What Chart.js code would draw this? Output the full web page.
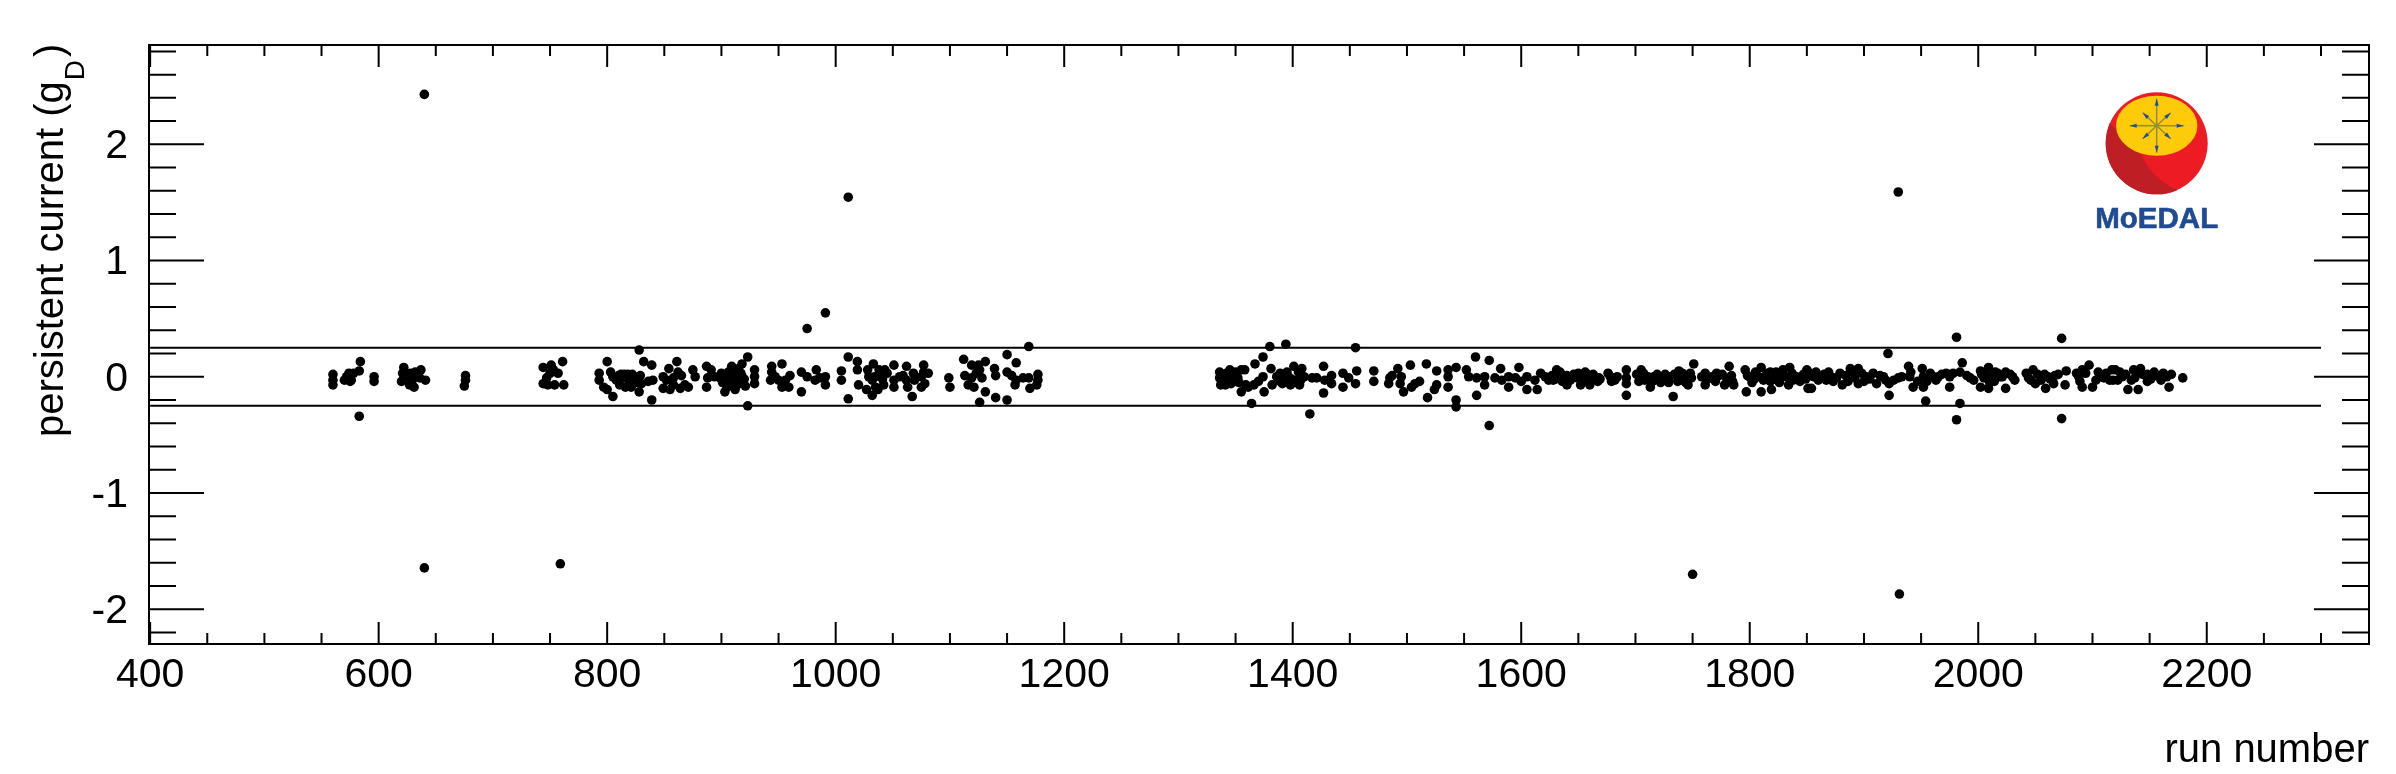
<!DOCTYPE html>
<html>
<head>
<meta charset="utf-8">
<title>persistent current vs run number</title>
<script src="https://cdn.jsdelivr.net/npm/chart.js@4"></script>
<style>
  html, body { margin: 0; padding: 0; background: #fff; }
  canvas { display: block; }
</style>
</head>
<body>
<canvas id="persistent-current" width="2396" height="774"></canvas>
<script>
// values, run number and persistent current in g_D
var runsA = [
  560,560,560,570,572,574,576,578,575,584,
  583,583,596,596,622,621,620,624,629,631,
  628,633,637,636,641,632,627,676,676,675,
  744,744,747,751,753,757,761,748,754,762,
  750,793,793,800,803,797,800,805,805,810,
  813,816,819,821,811,816,821,824,828,832,
  839,829,828,830,836,839,840,849,854,861,
  849,855,852,858,862,865,868,864,871,875,
  877,858,887,888,887,891,894,900,903,906,
  909,912,915,918,923,923,903,908,912,916,
  918,929,929,929,899,905
];
var valuesA = [
  .02,-.03,-.07,-.03,0,.03,-.03,.03,-.04,.13,
  .05,-.34,0,-.04,.08,.03,-.04,0,-.04,-.09,
  .03,0,.06,-.01,-.03,.04,-.07,.01,-.03,-.08,
  .08,-.06,-.01,.10,.06,.03,.13,-.07,-.07,-.07,
  .03,.03,-.03,.13,.04,-.09,-.11,-.17,0,.01,
  0,-.01,-.03,0,-.07,-.09,-.09,-.01,.23,.13,
  .10,.01,-.13,-.06,-.04,-.20,-.03,0,.07,.13,
  -.10,-.11,-.03,-.01,.04,.01,-.07,-.10,-.09,.06,
  0,-.07,.09,-.01,-.09,.06,0,.03,-.13,.04,
  .09,-.11,.07,.11,.17,-.25,-.03,-.03,-.01,-.06,
  0,.06,0,-.06,-.01,-.09
];
var runsB = [
  944,944,943,953,947,950,953,956,959,960,
  970,975,970,983,982,986,991,991,1005,1005,
  1011,1011,1019,1019,1020,1028,1029,1027,1033,1032,
  1032,1037,1037,1040,1042,1045,1051,1051,1051,1056,
  1059,1062,1063,1067,1068,1062,1069,1075,1075,1077,
  1077,1081,1078,1099,1100,1112,1113,1119,1125,1131,
  1116,1119,1123,1128,1121,1126,1131,1126,1139,1140,
  1140,1150,1150,1158,1150,1154,1157,1158,1164,1169,
  1177,1176,1170,1177,1169
];
var valuesB = [
  .09,.04,-.03,.11,0,-.03,-.09,-.03,-.09,.01,
  .04,0,-.13,.06,-.03,-.01,0,-.07,.05,-.03,
  .17,-.19,.13,.06,-.07,.06,0,-.11,.11,-.03,
  -.16,.01,-.11,.04,-.07,.03,.10,-.03,-.09,0,
  .01,.09,-.09,-.17,.03,-.03,-.03,0,-.09,.10,
  .04,.03,-.06,-.01,-.09,.15,.01,.10,.10,.13,
  -.07,-.01,.03,-.01,-.09,.06,-.13,-.22,.07,.01,
  -.18,.19,-.20,.12,.04,.01,-.07,-.03,-.01,-.01,
  .02,-.07,-.10,-.03,.26
];
var runsC = [
  1336,1336,1337,1340,1345,1344,1348,1341,1355,1352,
  1358,1350,1355,1359,1364,1367,1374,1380,1394,1361,
  1366,1370,1374,1375,1381,1382,1389,1389,1393,1396,
  1401,1398,1404,1408,1406,1410,1415,1417,1421,1427,
  1427,1428,1434,1434,1444,1444,1455,1456,1455,1449,
  1471,1471,1485,1487,1484,1492,1497,1495,1494,1503,
  1504,1507,1511,1517,1518,1526,1526,1524,1536,1536,
  1536,1543,1543,1543,1552,1554,1560,1561,1561,1568,
  1568,1572,1572,1577,1582,1583,1589,1589,1598,1595,
  1600,1605,1605,1612,1614,1621,1627,1631,1628,1636,
  1640,1640,1649,1652,1656,1656,1660,1663,1668
];
var valuesC = [
  .04,-.01,-.07,0,.06,-.01,-.01,-.07,.06,-.01,
  .06,-.04,-.13,-.07,-.23,.11,.17,.26,.28,-.09,
  -.07,-.04,0,-.13,.07,-.07,.03,-.04,-.03,0,
  .09,-.07,-.03,.07,-.07,0,-.32,-.01,-.01,.09,
  -.14,-.03,.01,-.06,.03,-.09,.25,.05,-.06,-.01,
  .05,-.04,-.01,.01,-.06,.07,-.13,0,-.06,.10,
  -.09,-.06,-.04,.11,-.18,.05,-.07,-.11,.06,0,
  -.09,.08,-.20,-.26,.06,0,.17,-.16,-.01,0,
  -.07,.14,-.42,-.01,.07,-.03,0,-.09,.08,-.01,
  -.04,0,-.11,-.03,-.11,0,.01,.06,-.03,-.04,
  .01,-.07,-.01,-.07,.04,-.01,-.07,-.01,-.01
];
var runsD = [
  1669,1678,1682,1692,1692,1692,1692,1705,1704,1708,
  1713,1716,1723,1730,1733,1738,1739,1743,1746,1751,
  1749,1761,1761,1767,1773,1778,1782,1784,1786,1796,
  1797,1800,1805,1810,1810,1818,1819,1818,1824,1829,
  1835,1834,1841,1844,1850,1851,1854,1856,1862,1869,
  1867,1876,1881,1888,1895,1892,1895,1902,1908,1911,
  1917,1922,1922,1921,1930,1939,1940,1943,1951,1952,
  1952
];
var valuesD = [
  -.02,0,-.03,.06,-.01,-.06,-.16,.06,-.01,-.03,
  -.09,0,0,0,-.17,.05,-.03,0,-.07,.11,
  -.01,.03,-.07,0,.01,-.07,.09,.01,-.07,.06,
  -.13,0,.04,.08,-.13,.04,-.11,-.04,-.03,.06,
  .08,-.07,0,-.04,.06,-.10,-.10,0,0,.04,
  -.03,-.01,-.07,.07,.07,-.01,-.06,0,.03,-.06,
  0,-.06,-.16,.20,-.01,.09,0,-.09,.07,0,
  -.09
];
var runsE = [
  1954,1961,1965,1975,1975,1981,1981,1984,1986,1984,
  1993,2002,2009,2015,2002,2009,2005,2012,2019,2024,
  2024,2032,2044,2048,2050,2059,2061,2067,2066,2073,
  2073,2077,2076,2088,2091,2091,2097,2100,2105,2110,
  2117,2120,2118,2126,2131,2136,2140,2142,2137,2148,
  2148,2156,2165,2167,2179
];
var valuesE = [
  -.21,0,0,0,-.09,.34,-.37,-.23,.12,.04,
  -.01,.05,.08,.04,-.09,-.10,-.01,-.01,0,.04,
  -.10,-.03,-.01,.06,-.06,-.10,0,.01,-.06,.33,
  -.36,.05,-.07,0,.06,-.09,.10,-.09,.04,-.01,
  .06,.06,-.03,0,-.11,.06,-.11,.07,-.01,-.04,
  .02,.01,0,-.09,-.01
];
// runs hidden inside the solid parts of the band, estimated
var runsDense = [
  808,812,815,818,822,826,901,907,910,913,
  914,917,920,921,1034,1035,1038,1041,1043,1338,
  1342,1347,1350,1353,1343,1346,1386,1391,1395,1399,
  1402,1405,1407,1617,1624,1630,1634,1638,1643,1646,
  1650,1654,1658,1663,1667,1676,1679,1684,1701,1703,
  1707,1711,1715,1719,1722,1726,1729,1734,1737,1741,
  1744,1748,1758,1763,1770,1771,1776,1780,1785,1798,
  1802,1804,1808,1812,1815,1821,1823,1826,1828,1832,
  1837,1838,1847,1849,1853,1858,1860,1865,1871,1873,
  1879,1884,1886,1890,1893,1898,1900,1905,1914,1919,
  1926,1933,1941,1947,1955,1958,1963,1968,1972,1978,
  1990,1996,2003,2007,2010,2014,2017,2021,2028,2030,
  2042,2046,2052,2055,2058,2063,2070,2086,2089,2094,
  2103,2107,2112,2115,2122,2124,2129,2134,2139,2144,
  2151,2154,2160,2162,2169
];
var valuesDense = [
  -.03,.02,.02,.02,.02,-.05,-.05,0,-.07,.03,
  -.05,.03,-.02,-.08,0,-.09,.06,-.02,.06,.02,
  .03,.03,.04,-.05,-.05,-.06,0,-.06,.04,-.02,
  -.05,.04,-.03,.03,-.03,-.02,.04,-.01,-.03,.02,
  .03,-.04,.02,.02,-.04,.03,-.04,0,.02,-.04,
  .03,0,-.04,.02,-.05,.02,-.05,.02,-.04,.03,
  -.05,.03,0,-.02,-.04,.03,.02,-.02,-.04,.01,
  -.05,-.02,0,-.03,.03,.01,.04,-.05,.01,0,
  .03,-.03,.02,-.02,.03,.04,-.03,.02,0,-.04,
  .03,.01,-.04,.04,.04,.03,-.04,-.02,.01,-.03,
  -.03,0,.04,-.04,-.04,.03,-.03,.02,.03,.03,
  .01,-.03,.02,.04,-.05,-.04,.03,0,.02,0,
  .03,-.03,.02,-.03,.02,-.02,.02,.03,-.04,.03,
  -.03,0,.03,-.03,-.03,.04,.02,-.03,.03,.02,
  -.02,.04,-.03,.03,.02
];
var outlierRuns = [640, 1011, 991, 975, 1930, 640, 759, 1750, 1931];
var outlierValues = [2.43, 1.545, .55, .415, 1.59, -1.645, -1.61, -1.70, -1.87];

var bandEnds = [400, 2300];
var bandUpper = [.25, .25];
var bandLower = [-.25, -.25];

var xMajorTicks = [400, 600, 800, 1000, 1200, 1400, 1600, 1800, 2000, 2200];
var xMinorTicks = [450, 500, 550, 650, 700, 750, 850, 900, 950, 1050, 1100, 1150, 1250, 1300, 1350,
  1450, 1500, 1550, 1650, 1700, 1750, 1850, 1900, 1950, 2050, 2100, 2150, 2250, 2300];
var yMajorTicks = [-2, -1, 0, 1, 2];
var yMinorTicks = [-2.2, -1.8, -1.6, -1.4, -1.2, -.8, -.6, -.4, -.2, .2, .4, .6, .8,
  1.2, 1.4, 1.6, 1.8, 2.2, 2.4, 2.6, 2.8];

var fontFamily = '"Liberation Sans", Arial, sans-serif';

function toPoints(xs, ys) {
  return xs.map(function(x, i) { return {x: x, y: ys[i]}; });
}

function setTicks(values) {
  return function(scale) {
    scale.ticks = values.map(function(v) { return {value: v}; });
  };
}

// ROOT style frame: inward ticks on all four sides
var framePlugin = {
  id: 'frame',
  afterDraw: function(chart) {
    var ctx = chart.ctx;
    var a = chart.chartArea;
    var xs = chart.scales.x;
    var ys = chart.scales.y;
    ctx.save();
    ctx.strokeStyle = '#000';
    ctx.lineWidth = 2;
    ctx.beginPath();
    function xTick(v, len) {
      var p = xs.getPixelForValue(v);
      ctx.moveTo(p, a.bottom); ctx.lineTo(p, a.bottom - len);
      ctx.moveTo(p, a.top); ctx.lineTo(p, a.top + len);
    }
    function yTick(v, len) {
      var p = ys.getPixelForValue(v);
      ctx.moveTo(a.left, p); ctx.lineTo(a.left + len, p);
      ctx.moveTo(a.right, p); ctx.lineTo(a.right - len, p);
    }
    xMajorTicks.forEach(function(v) { xTick(v, 22); });
    xMinorTicks.forEach(function(v) { xTick(v, 11); });
    yMajorTicks.forEach(function(v) { yTick(v, 55); });
    yMinorTicks.forEach(function(v) { yTick(v, 27); });
    ctx.stroke();
    ctx.strokeRect(a.left, a.top, a.right - a.left, a.bottom - a.top);
    ctx.restore();
  }
};

// y title needs a subscript, so it is drawn by hand
var yTitlePlugin = {
  id: 'yTitle',
  afterDraw: function(chart) {
    var ctx = chart.ctx;
    ctx.save();
    ctx.translate(63, 437);
    ctx.rotate(-Math.PI / 2);
    ctx.fillStyle = '#000';
    ctx.textAlign = 'left';
    ctx.textBaseline = 'alphabetic';
    ctx.font = '40px ' + fontFamily;
    var s = 'persistent current (g';
    ctx.fillText(s, 0, 0);
    var w = ctx.measureText(s).width;
    ctx.font = '28px ' + fontFamily;
    ctx.fillText('D', w + 1, 21);
    var w2 = ctx.measureText('D').width;
    ctx.font = '40px ' + fontFamily;
    ctx.fillText(')', w + w2 + 4, 0);
    ctx.restore();
  }
};

var logoPlugin = {
  id: 'logo',
  afterDraw: function(chart) {
    var ctx = chart.ctx;
    var cx = 2156.7, cy = 143.3;
    ctx.save();
    ctx.beginPath();
    ctx.arc(cx, cy, 51, 0, Math.PI * 2);
    ctx.fillStyle = '#ed1c24';
    ctx.fill();
    ctx.clip();
    ctx.beginPath();
    ctx.moveTo(cx - 70, 100);
    ctx.lineTo(cx - 15, 155);
    ctx.quadraticCurveTo(cx - 5, 180, cx + 25, 192);
    ctx.lineTo(cx - 70, 210);
    ctx.closePath();
    ctx.fillStyle = '#be1e24';
    ctx.fill();
    ctx.restore();

    ctx.save();
    var ey = 125.7;
    ctx.beginPath();
    ctx.ellipse(cx, ey, 40.7, 30, 0, 0, Math.PI * 2);
    ctx.fillStyle = '#fdcb0a';
    ctx.fill();
    var arrows = [[27, 0], [-27, 0], [0, 27], [0, -27], [14, 13], [-14, 13], [14, -13], [-14, -13]];
    arrows.forEach(function(d) {
      ctx.strokeStyle = '#8f8a45';
      ctx.lineWidth = 1.5;
      ctx.beginPath();
      ctx.moveTo(cx, ey);
      ctx.lineTo(cx + d[0], ey + d[1]);
      ctx.stroke();
      var len = Math.sqrt(d[0] * d[0] + d[1] * d[1]);
      var ux = d[0] / len, uy = d[1] / len;
      var bx = cx + d[0] - ux * 7, by = ey + d[1] - uy * 7;
      ctx.fillStyle = '#1f4e9c';
      ctx.beginPath();
      ctx.moveTo(cx + d[0], ey + d[1]);
      ctx.lineTo(bx - uy * 2, by + ux * 2);
      ctx.lineTo(bx + uy * 2, by - ux * 2);
      ctx.closePath();
      ctx.fill();
    });
    ctx.fillStyle = '#1f4a94';
    ctx.strokeStyle = '#1f4a94';
    ctx.lineWidth = .6;
    ctx.font = 'bold 29.5px "Liberation Sans", sans-serif';
    ctx.textAlign = 'center';
    ctx.textBaseline = 'alphabetic';
    ctx.fillText('MoEDAL', cx, 228);
    ctx.strokeText('MoEDAL', cx, 228);
    ctx.restore();
  }
};

var ctx = document.getElementById('persistent-current').getContext('2d');
var summaryChart = new Chart(ctx, {
  type: 'scatter',
  plugins: [framePlugin, yTitlePlugin, logoPlugin],
  data: {
    datasets: [
      { data: toPoints(bandEnds, bandUpper), type: 'line', borderColor: '#000', borderWidth: 2, pointRadius: 0, order: 2 },
      { data: toPoints(bandEnds, bandLower), type: 'line', borderColor: '#000', borderWidth: 2, pointRadius: 0, order: 2 },
      { data: toPoints(runsA, valuesA).concat(toPoints(runsB, valuesB), toPoints(runsC, valuesC),
          toPoints(runsD, valuesD), toPoints(runsE, valuesE), toPoints(runsDense, valuesDense),
          toPoints(outlierRuns, outlierValues)),
        backgroundColor: '#000', borderWidth: 0, pointRadius: 4.8, order: 1 }
    ]
  },
  options: {
    responsive: false,
    animation: false,
    events: [],
    layout: { padding: { left: 0, right: 27, top: 45, bottom: 0 } },
    plugins: { legend: { display: false }, tooltip: { enabled: false } },
    scales: {
      x: {
        type: 'linear',
        min: 399,
        max: 2342,
        grid: { display: false },
        border: { display: false },
        afterBuildTicks: setTicks(xMajorTicks),
        afterFit: function(scale) { scale.height = 130; },
        ticks: {
          autoSkip: false,
          maxRotation: 0,
          padding: -1,
          color: '#000',
          font: { family: fontFamily, size: 41 },
          callback: function(value) { return String(value); }
        },
        title: {
          display: true,
          text: 'run number',
          align: 'end',
          color: '#000',
          padding: { top: 0, bottom: -1 },
          font: { family: fontFamily, size: 40 }
        }
      },
      y: {
        type: 'linear',
        min: -2.30,
        max: 2.855,
        grid: { display: false },
        border: { display: false },
        afterBuildTicks: setTicks(yMajorTicks),
        afterFit: function(scale) { scale.width = 149; },
        ticks: {
          autoSkip: false,
          padding: 13,
          color: '#000',
          // empty first line nudges the number 2px under the tick, as in the reference
          font: { family: fontFamily, size: 41, lineHeight: '5px' },
          callback: function(value) { return ['', String(value)]; }
        }
      }
    }
  }
});
</script>
</body>
</html>
